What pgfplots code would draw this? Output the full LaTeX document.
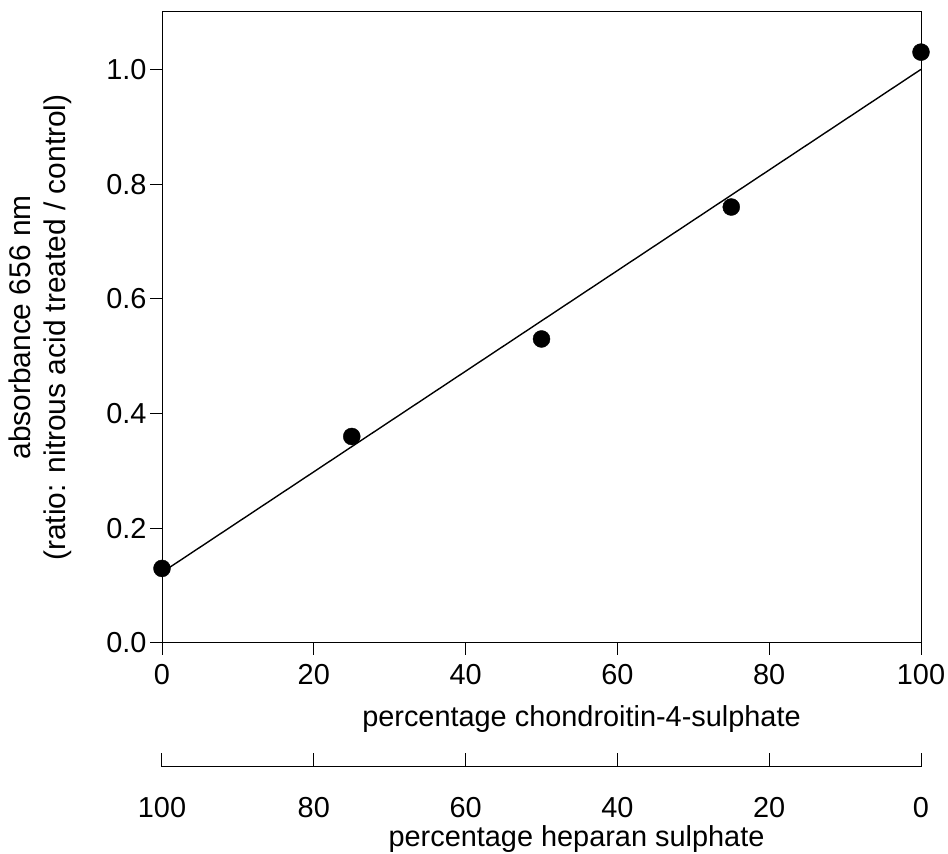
\documentclass[border=0pt]{standalone}
\usepackage{pgfplots}
\pgfplotsset{compat=1.18}
\usepackage{fontspec}
\setmainfont{Liberation Sans}
\begin{document}
\begin{tikzpicture}[x=1bp,y=1bp]
\path[use as bounding box] (0,0) rectangle (948,854);
\begin{axis}[at={(162bp,211bp)},anchor=south west,scale only axis,
  width=759bp,height=631bp,xmin=0,xmax=100,ymin=0,ymax=1.1,
  xtick={0,20,...,100},ytick={0,0.2,...,1.0},
  yticklabel style={/pgf/number format/.cd,fixed,fixed zerofill,precision=1},
  /pgf/number format/assume math mode=true,
  tick align=outside,major tick length=12bp,
  xtick pos=bottom,ytick pos=left,
  ticklabel style={font=\fontsize{29}{32}\selectfont},
  xticklabel style={yshift=-6bp},
  label style={font=\fontsize{29}{32}\selectfont},
  xlabel={percentage chondroitin-4-sulphate},
  xlabel style={at={(axis description cs:0.5,0)},anchor=base,yshift=-84bp,xshift=40bp},
  ylabel={absorbance 656 nm\\(ratio: nitrous acid treated / control)},
  ylabel style={font=\fontsize{30}{35}\selectfont,align=center,at={(axis description cs:-0.16,0.5)},anchor=center},
  axis line style={line width=1pt},tick style={line width=1pt,black},
  clip=false]
\addplot[only marks,mark=*,mark size=8.5bp,black] coordinates {(0,0.13)(25,0.36)(50,0.53)(75,0.76)(100,1.03)};
\addplot[black,line width=1.4pt] coordinates {(0,0.123)(100,1.0)};
\end{axis}
\begin{axis}[at={(162bp,87bp)},anchor=south west,scale only axis,
  width=759bp,height=10bp,xmin=0,xmax=100,x dir=reverse,
  axis x line=bottom,axis y line=none,ymin=0,ymax=1,
  xtick={0,20,...,100},ytick=\empty,
  /pgf/number format/assume math mode=true,
  xtick align=inside,major tick length=14bp,
  ticklabel style={font=\fontsize{29}{32}\selectfont},
  xticklabel style={yshift=-27bp},
  label style={font=\fontsize{29}{32}\selectfont},
  xlabel={percentage heparan sulphate},
  xlabel style={at={(axis description cs:0.5,0)},anchor=base,yshift=-80bp,xshift=35bp},
  axis line style={line width=1pt,-},tick style={line width=1pt,black}]
\end{axis}
\end{tikzpicture}
\end{document}
